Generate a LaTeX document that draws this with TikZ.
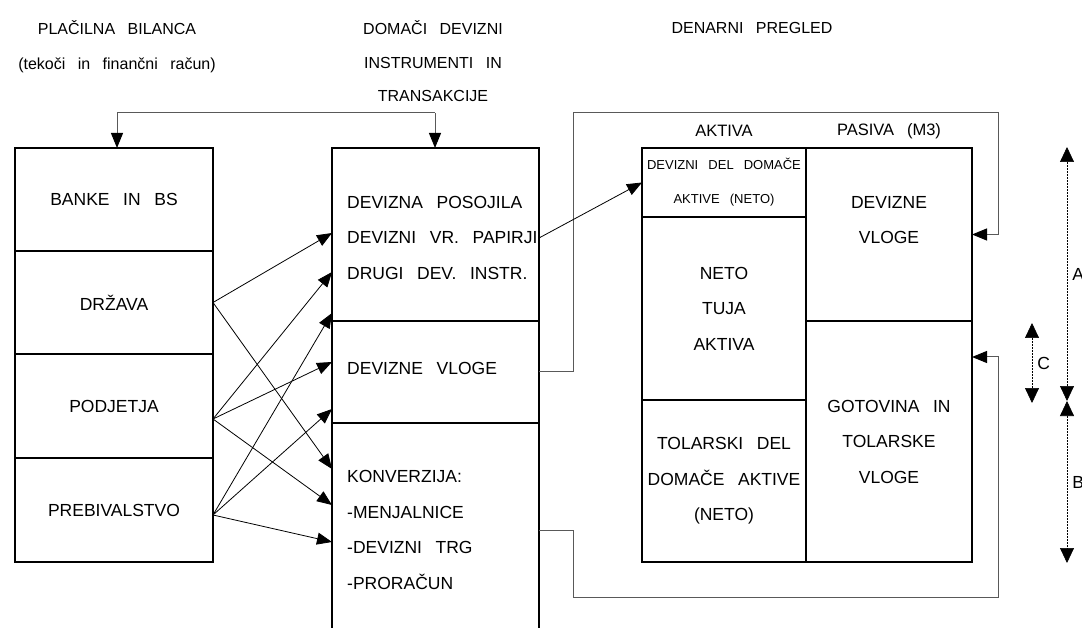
\documentclass[tikz,border=0pt]{standalone}
\usepackage{fontspec}
\setmainfont{Liberation Sans}[WordSpace=2.8]
\usetikzlibrary{arrows.meta,calc}
\begin{document}
\begin{tikzpicture}[x=1pt,y=-1pt,
  cellnode/.style={draw, line width=2.2pt, inner sep=0pt, outer sep=0pt,
    font=\fontsize{17.5}{35.5}\selectfont, align=center},
  box/.style={line width=2.2pt},
  txt/.style={font=\fontsize{17.5}{35.5}\selectfont, inner sep=0pt, align=left},
  small/.style={font=\fontsize{13}{34}\selectfont},
  hdr/.style={font=\fontsize{16}{34}\selectfont, inner sep=0pt, align=center},
  lbl/.style={font=\fontsize{17.5}{20}\selectfont, inner sep=0pt},
  tip/.style={-{Triangle[length=15pt,width=12pt,color=black,fill=black]}},
  conn/.style={line width=0.8pt, tip},
  gline/.style={draw=black!65, line width=1pt},
  dim/.style={line width=0.7pt, dash pattern=on 2pt off 1pt,
    {Triangle[length=15pt,width=14pt]}-{Triangle[length=15pt,width=14pt]}}
]
\useasboundingbox (0,0) rectangle (1082,628);

% headers
\node[hdr] (h1a) at (117,28) {PLAČILNA BILANCA};
\node[hdr] (h1b) at (117,65) {(tekoči in finančni račun)};
\node[hdr] (h2) at (433,61.5) {DOMAČI DEVIZNI\\[-0.5pt]INSTRUMENTI IN\\[-0.5pt]TRANSAKCIJE};
\node[hdr] (h3) at (752,28) {DENARNI PREGLED};

% left column
\node[cellnode, minimum width=198pt, minimum height=103pt] (banke) at (114,199.5) {BANKE IN BS};
\node[cellnode, minimum width=198pt, minimum height=103pt] (drzava) at (114,302.5) {DRŽAVA};
\node[cellnode, minimum width=198pt, minimum height=104pt] (podjetja) at (114,406) {PODJETJA};
\node[cellnode, minimum width=198pt, minimum height=104pt] (prebiv) at (114,510) {PREBIVALSTVO};

% middle column
\node[cellnode, minimum width=207pt, minimum height=173pt] (devinst) at (435.5,234.5) {};
\node[cellnode, minimum width=207pt, minimum height=102pt] (devvl) at (435.5,372) {};
\node[inner sep=0pt, outer sep=0pt, minimum width=207pt, minimum height=214pt] (konv) at (435.5,530) {};
\draw[box] (konv.south west) -- (konv.north west) -- (konv.north east) -- (konv.south east);
\node[txt, anchor=west] (devinstT) at ($(devinst.west)+(15,3)$)
  {DEVIZNA POSOJILA\\DEVIZNI VR. PAPIRJI\\DRUGI DEV. INSTR.};
\node[txt, anchor=west] (devvlT) at ($(devvl.west)+(15,-4)$) {DEVIZNE VLOGE};
\node[txt, anchor=west] (konvT) at ($(konv.west)+(15,0)$)
  {KONVERZIJA:\\-MENJALNICE\\-DEVIZNI TRG\\-PRORAČUN};

% right table
\node[hdr, font=\fontsize{16.5}{20}\selectfont] (aktiva) at (724,131) {AKTIVA};
\node[hdr, font=\fontsize{16.5}{20}\selectfont] (pasiva) at (889,131) {PASIVA (M3)};
\node[cellnode, small, minimum width=164pt, minimum height=69pt] (devdel) at (724,182.5)
  {DEVIZNI DEL DOMAČE\\AKTIVE (NETO)};
\node[cellnode, minimum width=164pt, minimum height=183pt] (neto) at (724,308.5)
  {NETO\\TUJA\\AKTIVA};
\node[cellnode, minimum width=164pt, minimum height=162pt] (tolar) at (724,481)
  {TOLARSKI DEL\\DOMAČE AKTIVE\\(NETO)};
\node[cellnode, minimum width=166pt, minimum height=173pt] (devvlR) at (889,234.5) {};
\node[txt, align=center] (devvlRT) at ($(devvlR.center)+(0,-14.5)$) {DEVIZNE\\VLOGE};
\node[cellnode, minimum width=166pt, minimum height=241pt] (gotov) at (889,441.5)
  {GOTOVINA IN\\TOLARSKE\\VLOGE};

% top connector
\coordinate (tl) at (117,113);
\coordinate (tr) at (435,113);
\draw[gline] (tl) -- (tr);
\draw[gline, tip] (tl) -- (tl |- banke.north);
\draw[gline, tip] (tr) -- (tr |- devinst.north);

% routed connectors to right table
\coordinate (r1) at (573,113);
\coordinate (r3) at (573,597);
\draw[gline, tip] (devvl.east) -| (r1) -| ($(devvlR.east)+(26,0)$) -- (devvlR.east);
\draw[gline, tip] (konv.east) -| (r3) -| ($(gotov.north east)+(26,36)$) -- ($(gotov.north east)+(0,36)$);

% arrow to devizni del
\draw[conn] ($(devinst.east)+(0,3.5)$) -- (devdel.west);

% crossing arrows
\coordinate (sD) at (drzava.east);
\coordinate (sP) at ($(podjetja.east)+(0,13)$);
\coordinate (sV) at ($(prebiv.east)+(0,5)$);
\draw[conn] (sD) -- ($(devinst.north west)+(0,85)$);
\draw[conn] (sD) -- ($(konv.north west)+(0,46)$);
\draw[conn] (sP) -- ($(devinst.north west)+(0,124)$);
\draw[conn] (sP) -- ($(devvl.north west)+(0,41)$);
\draw[conn] (sP) -- ($(konv.north west)+(0,82)$);
\draw[conn] (sV) -- ($(devinst.north west)+(0,165)$);
\draw[conn] (sV) -- ($(devvl.north west)+(0,88)$);
\draw[conn] (sV) -- ($(konv.north west)+(0,119)$);

% dimension arrows
\coordinate (Atop) at (1067,147);
\coordinate (Amid) at (1067,401);
\coordinate (Bbot) at (1067,563);
\coordinate (Ctop) at (1032,323);
\coordinate (Cbot) at (1032,403);
\draw[dim] (Atop) -- (Amid) node[lbl, midway, right=5pt] {A};
\draw[dim] (Amid) -- (Bbot) node[lbl, midway, right=5pt] {B};
\draw[dim] (Ctop) -- (Cbot) node[lbl, midway, right=5pt] {C};
\end{tikzpicture}
\end{document}
